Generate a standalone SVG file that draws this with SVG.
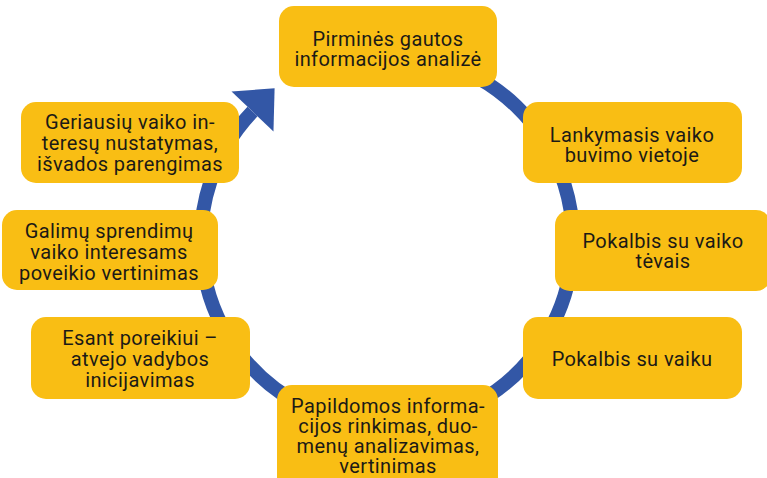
<svg xmlns="http://www.w3.org/2000/svg" width="767" height="478" viewBox="0 0 767 478">
  <style>
    .node rect { fill: #f9be14; }
    .node text { font-family: Roboto, "Liberation Sans", sans-serif; font-size: 20px; letter-spacing: 0.4px; fill: #1c1a16; text-anchor: middle; }
    .ring { fill: none; stroke: #3357a6; stroke-width: 14; }
  </style>
  <defs>
    <marker id="head" markerUnits="userSpaceOnUse" orient="auto" refX="0" refY="0" markerWidth="40" markerHeight="64" viewBox="0 -32 40 64" overflow="visible">
      <path d="M0,-29 L32,0 L0,29 Z" fill="#3357a6"/>
    </marker>
  </defs>
  <rect width="767" height="478" fill="#ffffff"/>
  <g id="connectors">
    <path class="ring" d="M354.7,56.8 A186,186 0 1 1 252.5,111.5" marker-end="url(#head)"/>
  </g>
  <g id="n1" class="node">
    <rect x="279" y="6" width="218" height="81" rx="15"/>
    <text x="388" y="46">Pirminės gautos</text>
    <text x="388" y="66">informacijos analizė</text>
  </g>
  <g id="n2" class="node">
    <rect x="523" y="102" width="219" height="81" rx="15"/>
    <text x="632" y="142">Lankymasis vaiko</text>
    <text x="632" y="162">buvimo vietoje</text>
  </g>
  <g id="n3" class="node">
    <rect x="555" y="210" width="216" height="81" rx="15"/>
    <text x="663" y="248">Pokalbis su vaiko</text>
    <text x="663" y="268">tėvais</text>
  </g>
  <g id="n4" class="node">
    <rect x="523" y="317" width="219" height="82" rx="15"/>
    <text x="632" y="366">Pokalbis su vaiku</text>
  </g>
  <g id="n5" class="node">
    <rect x="277" y="385" width="221" height="110" rx="15"/>
    <text x="388" y="413">Papildomos informa-</text>
    <text x="388" y="433">cijos rinkimas, duo-</text>
    <text x="388" y="453">menų analizavimas,</text>
    <text x="388" y="473">vertinimas</text>
  </g>
  <g id="n6" class="node">
    <rect x="31" y="317" width="219" height="82" rx="15"/>
    <text x="140" y="345">Esant poreikiui –</text>
    <text x="140" y="366">atvejo vadybos</text>
    <text x="140" y="387">inicijavimas</text>
  </g>
  <g id="n7" class="node">
    <rect x="2" y="210" width="216" height="80" rx="15"/>
    <text x="109" y="238">Galimų sprendimų</text>
    <text x="109" y="259">vaiko interesams</text>
    <text x="109" y="280">poveikio vertinimas</text>
  </g>
  <g id="n8" class="node">
    <rect x="21" y="102" width="218" height="81" rx="15"/>
    <text x="130" y="129">Geriausių vaiko in-</text>
    <text x="130" y="150">teresų nustatymas,</text>
    <text x="130" y="171">išvados parengimas</text>
  </g>
</svg>
